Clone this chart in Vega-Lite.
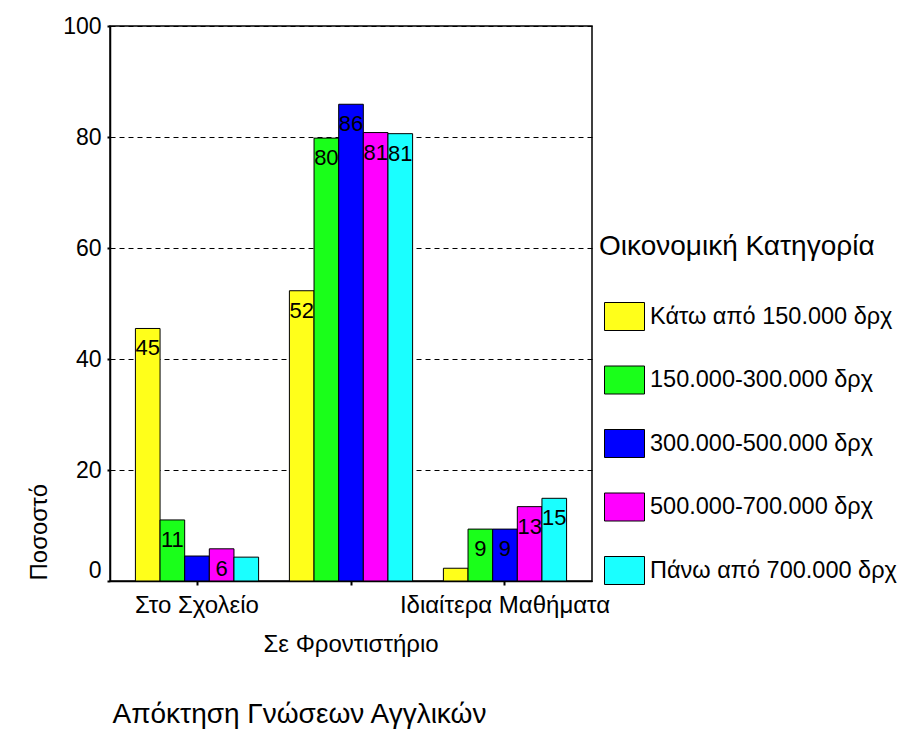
{
  "$schema": "https://vega.github.io/schema/vega-lite/v6.json",
  "width": 482,
  "height": 555,
  "autosize": {"type": "none"},
  "padding": {"left": 110, "top": 26, "right": 307, "bottom": 148},
  "background": "white",
  "config": {
    "font": "Liberation Sans",
    "view": {"stroke": "black", "strokeWidth": 1.5}
  },
  "data": {
    "values": [
      {"m": "Στο Σχολείο", "k": "Κάτω από 150.000 δρχ", "p": 45.5, "t": "45"},
      {"m": "Στο Σχολείο", "k": "150.000-300.000 δρχ", "p": 11.0, "t": "11"},
      {"m": "Στο Σχολείο", "k": "300.000-500.000 δρχ", "p": 4.5, "t": ""},
      {"m": "Στο Σχολείο", "k": "500.000-700.000 δρχ", "p": 5.8, "t": "6"},
      {"m": "Στο Σχολείο", "k": "Πάνω από 700.000 δρχ", "p": 4.3, "t": ""},
      {"m": "Σε Φροντιστήριο", "k": "Κάτω από 150.000 δρχ", "p": 52.3, "t": "52"},
      {"m": "Σε Φροντιστήριο", "k": "150.000-300.000 δρχ", "p": 79.8, "t": "80"},
      {"m": "Σε Φροντιστήριο", "k": "300.000-500.000 δρχ", "p": 85.9, "t": "86"},
      {"m": "Σε Φροντιστήριο", "k": "500.000-700.000 δρχ", "p": 80.8, "t": "81"},
      {"m": "Σε Φροντιστήριο", "k": "Πάνω από 700.000 δρχ", "p": 80.6, "t": "81"},
      {"m": "Ιδιαίτερα Μαθήματα", "k": "Κάτω από 150.000 δρχ", "p": 2.3, "t": ""},
      {"m": "Ιδιαίτερα Μαθήματα", "k": "150.000-300.000 δρχ", "p": 9.35, "t": "9"},
      {"m": "Ιδιαίτερα Μαθήματα", "k": "300.000-500.000 δρχ", "p": 9.35, "t": "9"},
      {"m": "Ιδιαίτερα Μαθήματα", "k": "500.000-700.000 δρχ", "p": 13.4, "t": "13"},
      {"m": "Ιδιαίτερα Μαθήματα", "k": "Πάνω από 700.000 δρχ", "p": 14.9, "t": "15"}
    ]
  },
  "encoding": {
    "x": {
      "field": "m",
      "type": "nominal",
      "sort": ["Στο Σχολείο", "Σε Φροντιστήριο", "Ιδιαίτερα Μαθήματα"],
      "scale": {"paddingInner": 0.2, "paddingOuter": 0.165},
      "axis": {
        "title": "Απόκτηση Γνώσεων Αγγλικών",
        "titleFont": "Liberation Sans",
        "titleFontSize": 28,
        "titleFontWeight": "normal",
        "titleColor": "black",
        "titleAnchor": "start",
        "titleAlign": "left",
        "titleBaseline": "alphabetic",
        "titleX": 2,
        "titleY": 141,
        "labelAngle": 0,
        "labelFontSize": 24,
        "labelColor": "black",
        "labelBaseline": "top",
        "labelLimit": 400,
        "labelPadding": {"condition": {"test": "datum.value === 'Σε Φροντιστήριο'", "value": 47}, "value": 8},
        "domainColor": "black",
        "domainWidth": 1.5,
        "tickColor": "black",
        "tickSize": 4,
        "tickWidth": 2
      }
    },
    "xOffset": {
      "field": "k",
      "type": "nominal",
      "sort": ["Κάτω από 150.000 δρχ", "150.000-300.000 δρχ", "300.000-500.000 δρχ", "500.000-700.000 δρχ", "Πάνω από 700.000 δρχ"],
      "scale": {"paddingInner": 0, "paddingOuter": 0}
    },
    "y": {
      "field": "p",
      "type": "quantitative",
      "scale": {"domain": [0, 100], "nice": false},
      "axis": {
        "title": "Ποσοστό",
        "titleFontSize": 24,
        "titleFontWeight": "normal",
        "titleColor": "black",
        "titleAngle": -90,
        "titleAnchor": "start",
        "titleAlign": "left",
        "titleBaseline": "middle",
        "titleX": -71,
        "titleY": 554,
        "values": [0, 20, 40, 60, 80, 100],
        "labelFontSize": 23,
        "labelColor": "black",
        "labelPadding": 6,
        "labelOffset": {"condition": {"test": "datum.value === 0", "value": -11}, "value": 0},
        "domainColor": "black",
        "domainWidth": 1.5,
        "tickColor": "black",
        "tickSize": 3,
        "tickWidth": 2,
        "grid": true,
        "gridColor": "black",
        "gridDash": [5, 4],
        "gridWidth": 1,
        "gridOpacity": 1
      }
    }
  },
  "layer": [
    {
      "mark": {"type": "bar", "stroke": "black", "strokeWidth": 1, "opacity": 1},
      "encoding": {
        "color": {
          "field": "k",
          "type": "nominal",
          "scale": {
            "domain": ["Κάτω από 150.000 δρχ", "150.000-300.000 δρχ", "300.000-500.000 δρχ", "500.000-700.000 δρχ", "Πάνω από 700.000 δρχ"],
            "range": ["#ffff1a", "#1aff1a", "#0000ff", "#ff00ff", "#1affff"]
          },
          "legend": {
            "title": "Οικονομική Κατηγορία",
            "orient": "none",
            "legendX": 489,
            "legendY": 207,
            "padding": 0,
            "titleFontSize": 28,
            "titleFontWeight": "normal",
            "titleColor": "black",
            "titleLimit": 400,
            "titlePadding": 35,
            "labelFontSize": 23.5,
            "labelColor": "black",
            "labelOffset": 5,
            "labelLimit": 400,
            "symbolType": "M-1,-0.7L1,-0.7L1,0.7L-1,0.7Z",
            "symbolSize": 1600,
            "symbolStrokeColor": "black",
            "symbolStrokeWidth": 1,
            "symbolOpacity": 1,
            "symbolOffset": 5,
            "rowPadding": 26.5
          }
        }
      }
    },
    {
      "mark": {"type": "text", "baseline": "top", "dy": 10, "fontSize": 22, "color": "black"},
      "encoding": {"text": {"field": "t"}}
    }
  ]
}
